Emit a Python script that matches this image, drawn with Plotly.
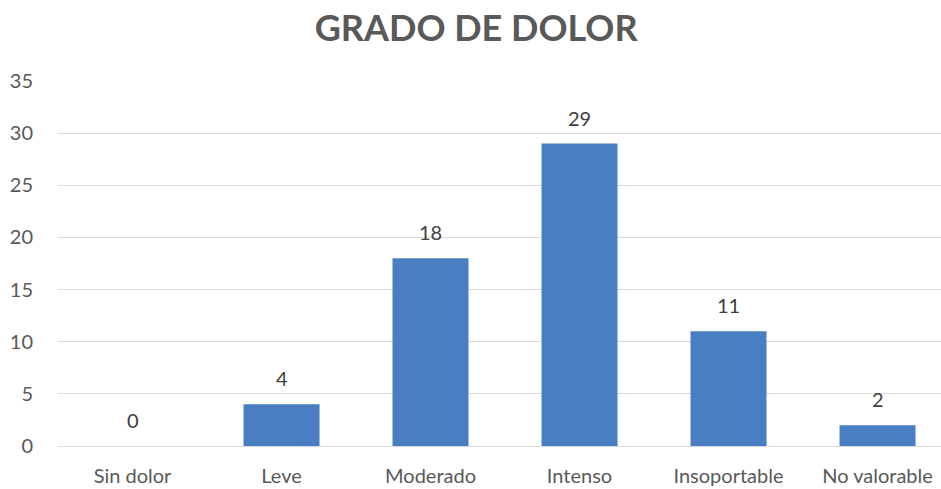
import plotly.graph_objects as go

categories = ["Sin dolor", "Leve", "Moderado", "Intenso", "Insoportable", "No valorable"]
values = [0, 4, 18, 29, 11, 2]
y_ticks = [0, 5, 10, 15, 20, 25, 30, 35]

FONT = "Lato, Open Sans, sans-serif"
xs = list(range(len(categories)))

fig = go.Figure()
fig.add_trace(go.Bar(
    x=xs,
    y=values,
    width=0.51,
    marker=dict(color="#4a7ec2", line=dict(width=0)),
    hoverinfo="x+y",
))

for x, v in zip(xs, values):
    fig.add_annotation(x=x, y=v, text=str(v), showarrow=False,
                       xref="x", yref="y", yanchor="middle", yshift=26,
                       font=dict(family=FONT, size=20, color="#404040"))

fig.update_layout(
    width=941, height=489,
    margin=dict(l=58, r=0, t=81, b=43, autoexpand=False),
    paper_bgcolor="white", plot_bgcolor="white",
    showlegend=False,
    title=dict(text="<b>GRADO DE DOLOR</b>", x=0.506, xanchor="center", y=1 - 28 / 489, yanchor="middle",
               font=dict(family=FONT, size=36, color="#595959")),
    xaxis=dict(
        tickmode="array", tickvals=xs, ticktext=categories,
        range=[-0.5, 5.426], showgrid=False, zeroline=False,
        showline=True, linecolor="#d9d9d9", linewidth=1,
        tickfont=dict(family=FONT, size=20, color="#595959"),
        ticks="outside", ticklen=12, tickcolor="rgba(0,0,0,0)",
        automargin=False,
    ),
    yaxis=dict(
        range=[0, 35], tickvals=y_ticks, showgrid=True, gridcolor="#d9d9d9", gridwidth=1,
        zeroline=False, showline=False,
        tickfont=dict(family=FONT, size=20, color="#595959"),
        ticks="outside", ticklen=20, tickcolor="rgba(0,0,0,0)",
        automargin=False,
    ),
)

fig.write_html("out.html",
               config={"displayModeBar": False},
               post_script="document.body.style.margin='0';document.body.style.overflow='hidden';")
